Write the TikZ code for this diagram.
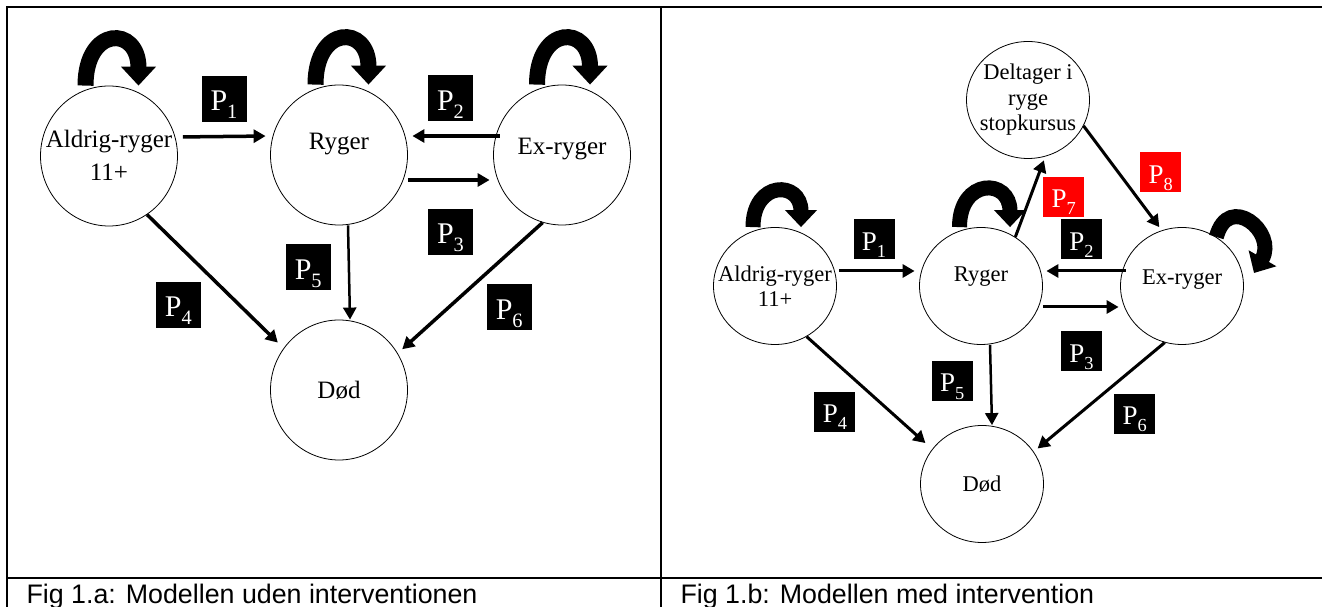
\documentclass[tikz,border=0pt]{standalone}
\usepackage{fontspec}
\setmainfont{Liberation Serif}
\setsansfont{Liberation Sans}
\usetikzlibrary{shapes.geometric,
                arrows.meta,
                positioning}
\tikzset{state/.style=
   {ellipse,
    draw,
    line width=0.8pt,
    inner sep=0pt,
    minimum width=137pt,
    minimum height=140pt,
    font=\fontsize{25}{26}\selectfont}}
\tikzset{smallstate/.style=
   {state,
    minimum width=123pt,
    minimum height=117pt,
    font=\fontsize{22.5}{25}\selectfont}}
\tikzset{pbox/.style=
   {rectangle,
    fill=black,
    text=white,
    inner sep=0pt,
    minimum width=45pt,
    minimum height=46pt,
    text height=32pt,
    text depth=8pt,
    font=\fontsize{30}{30}\selectfont}}
\tikzset{smallpbox/.style=
   {pbox,
    minimum width=41pt,
    minimum height=40pt,
    text height=29pt,
    text depth=7pt,
    font=\fontsize{27}{27}\selectfont}}
\tikzset{arrow/.style = {draw, line width=3.5pt, -{Triangle[length=12pt,width=13pt]}}}
\tikzset{selfloop/.style = {draw, line width=16pt, -{Triangle[length=19pt,width=34pt]}}}
\tikzset{smallloop/.style = {draw, line width=15pt, -{Triangle[length=17pt,width=31pt]}}}
\tikzset{frame/.style = {draw, line width=2pt}}
\newcommand{\prob}[1]{P\raisebox{-.26em}{\scalebox{.68}{#1}}}
\newcommand{\statetext}[1]{\makebox[0pt]{\begin{tabular}{@{}c@{}}#1\end{tabular}}}

\begin{document}
\begin{tikzpicture}[x=1pt, y=1pt]
    \useasboundingbox (0,0) rectangle (1322,607);

    % Table frame
    \draw [frame] (7,-5) -- (7,599.5) -- (1330,599.5);
    \draw [frame] (661,-5) -- (661,599.5);
    \draw [frame] (7,29) -- (1330,29);

    % Fig 1.a: place nodes
    \node [state, text height=42pt] (ald) at (109,451) {\statetext{Aldrig-ryger\\[7pt]11+}};
    \node [state, text depth=28pt] (ryg) at (339,452) {Ryger};
    \node [state, text depth=17pt] (exr) at (562,452) {Ex-ryger};
    \node [state] (dod) at (339,217) {Død};

    % Fig 1.a: self loops
    \path [selfloop] ([xshift=-23.5pt]ald.north) to [out=90, in=90, looseness=2.9] ([xshift=29.5pt]ald.north);
    \path [selfloop] ([xshift=-23.5pt]ryg.north) to [out=90, in=90, looseness=2.9] ([xshift=29.5pt]ryg.north);
    \path [selfloop] ([xshift=-25pt]exr.north) to [out=90, in=90, looseness=2.9] ([xshift=28pt]exr.north);

    % Fig 1.a: draw edges
    \path [arrow, shorten <=5pt, shorten >=4.5pt]
    ([yshift=19pt] ald.east)
    -- node [pbox, above=13pt] (p1a) {\prob{1}}
    ([yshift=19pt] ryg.west);

    \path [arrow, shorten <=-6.5pt, shorten >=4.5pt]
    ([yshift=19pt] exr.west)
    -- node [pbox, above=13pt] (p2a) {\prob{2}}
    ([yshift=19pt] ryg.east);

    \path [arrow, shorten >=3.5pt]
    ([yshift=-25pt] ryg.east)
    -- node [pbox, below=27pt] (p3a) {\prob{3}}
    ([yshift=-25pt] exr.west);

    \path [arrow, line width=2.5pt]
    ([xshift=9pt] ryg.south)
    -- node [pbox, left=17pt, yshift=5pt] (p5a) {\prob{5}}
    ([xshift=11pt] dod.north);

    \path [arrow, shorten >=8pt]
    (ald.-57)
    -- node [pbox, xshift=-37pt, yshift=-23.5pt] (p4a) {\prob{4}}
    (dod.143);

    \path [arrow, shorten >=6pt]
    (exr.-106)
    -- node [pbox, xshift=39pt, yshift=-19.5pt] (p6a) {\prob{6}}
    (dod.32);

    % Fig 1.b: place nodes
    \node [smallstate, font=\fontsize{22.5}{25.5}\selectfont] (del) at (1028,507) {\statetext{Deltager i\\ryge\\stopkursus}};
    \node [smallstate, text height=35.5pt] (ald2) at (775,321) {\statetext{Aldrig-ryger\\11+}};
    \node [smallstate, text depth=24pt] (ryg2) at (981,321) {Ryger};
    \node [smallstate, text depth=17pt] (exr2) at (1182,321) {Ex-ryger};
    \node [smallstate] (dod2) at (982,123) {Død};

    % Fig 1.b: self loops
    \path [smallloop] ([xshift=-22pt]ald2.north) to [out=90, in=90, looseness=2.5] ([xshift=26pt]ald2.north);
    \path [smallloop] ([xshift=-21.5pt]ryg2.north) to [out=90, in=90, looseness=2.5] ([xshift=29pt]ryg2.north);
    \path [smallloop] (exr2.55) to [out=75, in=60, looseness=2.3] ([shift={(72pt,13pt)}]exr2.center);

    % Fig 1.b: draw edges
    \path [arrow, line width=3pt, shorten <=2.5pt, shorten >=4.5pt]
    ([yshift=15pt] ald2.east)
    -- node [smallpbox, above=10pt, xshift=-4pt] (p1b) {\prob{1}}
    ([yshift=15pt] ryg2.west);

    \path [arrow, line width=3pt, shorten <=-5.5pt, shorten >=3.5pt]
    ([yshift=15pt] exr2.west)
    -- node [smallpbox, above=10pt] (p2b) {\prob{2}}
    ([yshift=15pt] ryg2.east);

    \path [arrow, line width=3pt, shorten >=1.5pt]
    ([yshift=-21pt] ryg2.east)
    -- node [smallpbox, below=23pt] (p3b) {\prob{3}}
    ([yshift=-21pt] exr2.west);

    \path [arrow, line width=2.5pt]
    ([xshift=9pt] ryg2.south)
    -- node [smallpbox, left=17pt, yshift=4pt] (p5b) {\prob{5}}
    ([xshift=10pt] dod2.north);

    \path [arrow, line width=3pt, shorten >=9pt]
    (ald2.-58)
    -- node [smallpbox, xshift=-34.5pt, yshift=-19pt] (p4b) {\prob{4}}
    (dod2.145);

    \path [arrow, line width=3pt, shorten >=5pt]
    (exr2.-107)
    -- node [smallpbox, xshift=35.5pt, yshift=-16.5pt] (p6b) {\prob{6}}
    (dod2.32);

    \path [arrow, line width=3pt, shorten >=4pt]
    (ryg2.55)
    -- node [smallpbox, fill=red, xshift=33.5pt] (p7b) {\prob{7}}
    (del.-73);

    \path [arrow, line width=3pt, shorten >=4pt]
    (del.-25)
    -- node [smallpbox, fill=red, xshift=38pt, yshift=6pt] (p8b) {\prob{8}}
    (exr2.110);

    % Captions
    \node [anchor=base west, font=\sffamily\fontsize{26.8}{28}\selectfont] (capa) at (23,3) {Fig 1.a: Modellen uden interventionen};
    \node [anchor=base west, font=\sffamily\fontsize{26.8}{28}\selectfont] (capb) at (677,3) {Fig 1.b: Modellen med intervention};

\end{tikzpicture}
\end{document}
